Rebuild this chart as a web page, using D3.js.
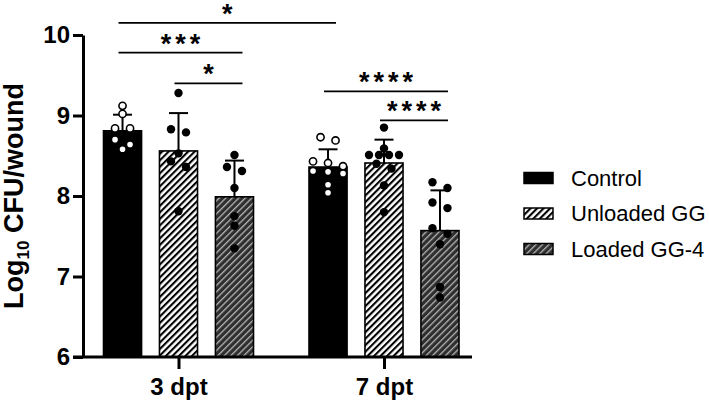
<!DOCTYPE html>
<html>
<head>
<meta charset="utf-8">
<script src="https://cdn.jsdelivr.net/npm/d3@7"></script>
<style>
  body { margin: 0; background: #fff; }
  text { font-family: Arial, "Liberation Sans", sans-serif; }
</style>
</head>
<body>
<svg id="chart" width="709" height="402"></svg>
<script>
// ---- data ----
const groups = ['3 dpt', '7 dpt'];
const series = ['Control', 'Unloaded GG', 'Loaded GG-4'];

const meanDay3 = [8.81, 8.56, 7.99];
const meanDay7 = [8.36, 8.41, 7.57];
const sdDay3 = [0.20, 0.47, 0.45];
const sdDay7 = [0.22, 0.29, 0.50];

const pointsDay3 = [
  [9.12, 9.02, 8.84, 8.84, 8.70, 8.64, 8.58],
  [9.28, 8.83, 8.79, 8.53, 8.43, 8.36, 7.81],
  [8.51, 8.36, 8.31, 8.10, 7.75, 7.63, 7.35]
];
const pointsDay7 = [
  [8.73, 8.69, 8.43, 8.41, 8.37, 8.31, 8.30, 8.28, 8.14, 8.04],
  [8.85, 8.59, 8.51, 8.51, 8.51, 8.51, 8.40, 8.34, 8.13, 7.80],
  [8.17, 8.10, 7.92, 7.85, 7.60, 7.53, 7.40, 6.87, 6.74]
];

const yTicks = [6, 7, 8, 9, 10];

// significance brackets: [group A, series A, group B, series B, label, height (log units)]
const sigBrackets = [
  ['3 dpt', 'Control', '7 dpt', 'Control', '*', 10.15],
  ['3 dpt', 'Control', '3 dpt', 'Loaded GG-4', '***', 9.78],
  ['3 dpt', 'Unloaded GG', '3 dpt', 'Loaded GG-4', '*', 9.40],
  ['7 dpt', 'Control', '7 dpt', 'Loaded GG-4', '****', 9.30],
  ['7 dpt', 'Unloaded GG', '7 dpt', 'Loaded GG-4', '****', 8.94]
];

const means = [meanDay3, meanDay7];
const sds = [sdDay3, sdDay7];
const points = [pointsDay3, pointsDay7];

// ---- layout ----
const svg = d3.select('#chart');
const axisX = 83, axisY = 357, axisRight = 472;

const y = d3.scaleLinear().domain([6, 10]).range([axisY, 35]);
const x0 = d3.scalePoint().domain(groups).range([178.5, 384]);
const x1 = d3.scaleBand().domain(series).range([-75, 75]).paddingInner(0.32);
const bw = x1.bandwidth();
const cx = (g, s) => x0(g) + x1(s) + bw / 2;

// hatch patterns
const defs = svg.append('defs');
const unl = defs.append('pattern').attr('id', 'hatchUnloaded')
  .attr('patternUnits', 'userSpaceOnUse').attr('width', 4.6).attr('height', 4.6)
  .attr('patternTransform', 'rotate(45)');
unl.append('rect').attr('width', 4.6).attr('height', 4.6).attr('fill', '#fff');
unl.append('rect').attr('width', 2.1).attr('height', 4.6).attr('fill', '#000');

const lod = defs.append('pattern').attr('id', 'hatchLoaded')
  .attr('patternUnits', 'userSpaceOnUse').attr('width', 4.6).attr('height', 4.6)
  .attr('patternTransform', 'rotate(45)');
lod.append('rect').attr('width', 4.6).attr('height', 4.6).attr('fill', '#2e2e2e');
lod.append('rect').attr('width', 1.3).attr('height', 4.6).attr('fill', '#b5b5b5');

const fills = d3.scaleOrdinal().domain(series)
  .range(['#000', 'url(#hatchUnloaded)', 'url(#hatchLoaded)']);

// bars
const barData = [];
groups.forEach((g, gi) => series.forEach((s, si) => {
  barData.push({ g, s, mean: means[gi][si], sd: sds[gi][si], pts: points[gi][si] });
}));

svg.append('g').selectAll('rect').data(barData).enter().append('rect')
  .attr('x', d => x0(d.g) + x1(d.s))
  .attr('y', d => y(d.mean))
  .attr('width', bw)
  .attr('height', d => axisY - y(d.mean))
  .attr('fill', d => fills(d.s))
  .attr('stroke', '#000')
  .attr('stroke-width', 1.6);

// error bars (upper only)
const eb = svg.append('g').attr('stroke', '#000').attr('stroke-width', 2);
barData.forEach(d => {
  const c = cx(d.g, d.s);
  eb.append('line').attr('x1', c).attr('x2', c).attr('y1', y(d.mean)).attr('y2', y(d.mean + d.sd));
  eb.append('line').attr('x1', c - 9.5).attr('x2', c + 9.5).attr('y1', y(d.mean + d.sd)).attr('y2', y(d.mean + d.sd));
});

// scatter: bin points into rows, spread each row around the bar centre
function swarm(vals) {
  const rows = [];
  vals.slice().sort((a, b) => b - a).forEach(v => {
    const py = y(v);
    const row = rows[rows.length - 1];
    if (row && py - row.top < 6) row.vals.push(v);
    else rows.push({ top: py, vals: [v] });
  });
  const out = [];
  rows.forEach(r => {
    const n = r.vals.length;
    const gap = n > 1 ? Math.min(15, 30 / (n - 1)) : 0;
    r.vals.forEach((v, i) => out.push({ v, dx: (i - (n - 1) / 2) * gap }));
  });
  return out;
}

const dots = svg.append('g');
barData.forEach(d => {
  const c = cx(d.g, d.s);
  dots.selectAll(null).data(swarm(d.pts)).enter().append('circle')
    .attr('cx', p => c + p.dx)
    .attr('cy', p => y(p.v))
    .attr('r', d.s === 'Control' ? 3.6 : 4.2)
    .attr('fill', d.s === 'Control' ? '#fff' : '#000')
    .attr('stroke', '#000')
    .attr('stroke-width', d.s === 'Control' ? 1.6 : 0);
});

// axes
const yAxis = svg.append('g').attr('transform', `translate(${axisX},0)`)
  .call(d3.axisLeft(y).tickValues(yTicks).tickFormat(d3.format('d')).tickSize(10).tickSizeOuter(0).tickPadding(3));
yAxis.select('.domain').attr('stroke-width', 3);
yAxis.selectAll('.tick line').attr('stroke-width', 3);
yAxis.selectAll('.tick text').attr('font-size', 24).attr('font-weight', 'bold').attr('fill', '#000')
  .attr('font-family', 'Arial, "Liberation Sans", sans-serif');

svg.append('line').attr('x1', axisX - 10).attr('x2', axisRight).attr('y1', axisY).attr('y2', axisY)
  .attr('stroke', '#000').attr('stroke-width', 3);

const xAxis = svg.append('g').attr('transform', `translate(0,${axisY})`)
  .call(d3.axisBottom(x0).tickSize(12).tickSizeOuter(0).tickPadding(9));
xAxis.select('.domain').remove();
xAxis.selectAll('.tick line').attr('stroke-width', 3);
xAxis.selectAll('.tick text').attr('font-size', 24).attr('font-weight', 'bold').attr('fill', '#000')
  .attr('font-family', 'Arial, "Liberation Sans", sans-serif');

// y title
const yt = svg.append('text')
  .attr('transform', 'translate(23,196) rotate(-90)')
  .attr('text-anchor', 'middle')
  .attr('font-size', 27).attr('font-weight', 'bold');
yt.append('tspan').text('Log');
yt.append('tspan').attr('font-size', 17).attr('dy', 6).text('10');
yt.append('tspan').attr('dy', -6).text(' CFU/wound');

// significance
const sg = svg.append('g');
sigBrackets.forEach(([ga, sa, gb, sb, lab, h]) => {
  const xa = cx(ga, sa) - 4, xb = cx(gb, sb) + 8, yy = y(h);
  sg.append('line').attr('x1', xa).attr('x2', xb).attr('y1', yy).attr('y2', yy)
    .attr('stroke', '#000').attr('stroke-width', 1.8);
  sg.append('text').attr('x', (xa + xb) / 2 + 2).attr('y', yy)
    .attr('text-anchor', 'middle').attr('font-size', 27).attr('font-weight', 'bold')
    .attr('letter-spacing', 4).text(lab);
});

// legend
const lg = svg.append('g').attr('transform', 'translate(524,178)');
series.forEach((s, i) => {
  const row = lg.append('g').attr('transform', `translate(0,${i * 35.5})`);
  row.append('rect').attr('x', 0).attr('y', -5.5).attr('width', 29).attr('height', 11)
    .attr('fill', fills(s)).attr('stroke', '#000').attr('stroke-width', 1.5);
  row.append('text').attr('x', 47).attr('y', 0).attr('dy', '0.35em')
    .attr('font-size', 22).text(s);
});
</script>
</body>
</html>
